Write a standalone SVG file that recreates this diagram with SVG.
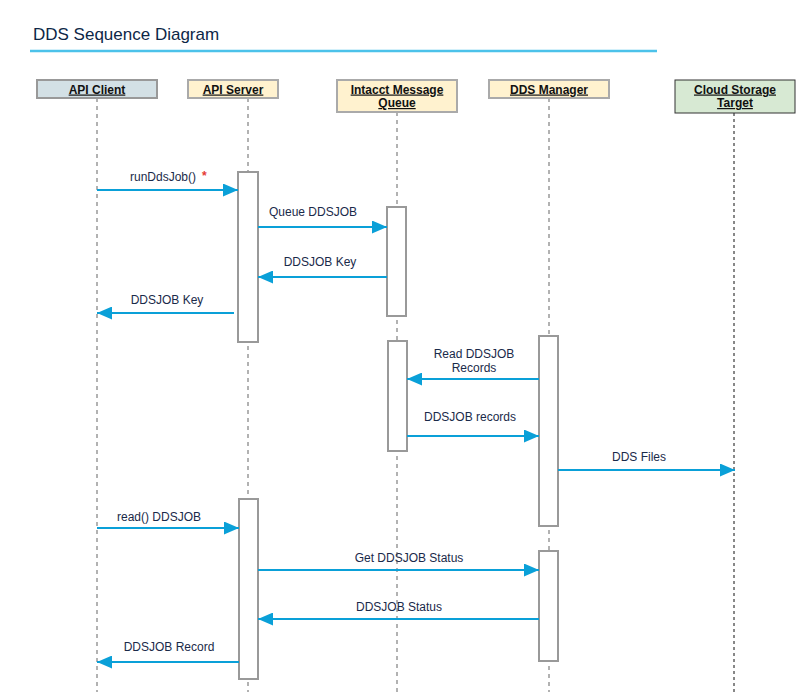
<svg xmlns="http://www.w3.org/2000/svg" width="806" height="700" viewBox="0 0 806 700">
<defs>
<marker id="ah" markerUnits="userSpaceOnUse" markerWidth="15" markerHeight="13" refX="15" refY="6.5" orient="auto">
<path d="M0,0 L15,6.5 L0,13 z" fill="#0aa0d8"/>
</marker>
<style>
.title{font-family:"Liberation Sans",Arial,sans-serif;font-size:17px;fill:#0d2747}
.hdr{font-family:"Liberation Sans",Arial,sans-serif;font-size:12px;font-weight:bold;fill:#111;text-decoration:underline;text-anchor:middle}
.lbl{font-family:"Liberation Sans",Arial,sans-serif;font-size:12px;fill:#1a2a4a;text-anchor:middle}
.life{stroke:#999;stroke-width:1.5;stroke-dasharray:4 4;fill:none}
.act{fill:#fff;stroke:#999;stroke-width:2}
.msg{stroke:#0aa0d8;stroke-width:2;fill:none;marker-end:url(#ah)}
</style>
</defs>
<rect width="806" height="700" fill="#fff"/>
<text class="title" x="33" y="40">DDS Sequence Diagram</text>
<line x1="30" y1="51" x2="657" y2="51" stroke="#4cc2ea" stroke-width="2.5"/>

<g id="lifelines">
<line class="life" x1="97" y1="98" x2="97" y2="692"/>
<line class="life" x1="248" y1="98" x2="248" y2="692"/>
<line class="life" x1="397" y1="112" x2="397" y2="692"/>
<line class="life" x1="549" y1="98" x2="549" y2="692"/>
<line x1="734" y1="113" x2="734" y2="692" stroke="#111" stroke-width="1" stroke-dasharray="3 3"/>
</g>

<g id="api-client">
<rect x="37" y="80" width="120" height="18" fill="#d3e0e5" stroke="#999" stroke-width="2"/>
<text class="hdr" x="97" y="93.5">API Client</text>
</g>
<g id="api-server">
<rect x="188" y="80" width="90" height="18" fill="#fff2cf" stroke="#aaa" stroke-width="2"/>
<text class="hdr" x="233" y="93.5">API Server</text>
</g>
<g id="message-queue">
<rect x="337" y="80" width="120" height="32" fill="#fff2cf" stroke="#aaa" stroke-width="2"/>
<text class="hdr" x="397" y="93.5">Intacct Message </text>
<text class="hdr" x="397" y="107">Queue</text>
</g>
<g id="dds-manager">
<rect x="489" y="80" width="120" height="18" fill="#fff2cf" stroke="#aaa" stroke-width="2"/>
<text class="hdr" x="549" y="93.5">DDS Manager</text>
</g>
<g id="cloud-storage">
<rect x="675" y="80" width="120" height="33" fill="#d7e9d3" stroke="#333" stroke-width="1"/>
<text class="hdr" x="735" y="93.5">Cloud Storage </text>
<text class="hdr" x="735" y="107">Target</text>
</g>

<g id="activations">
<rect class="act" x="238" y="172" width="20" height="170"/>
<rect class="act" x="387" y="207" width="19" height="109"/>
<rect class="act" x="388" y="341" width="19" height="110"/>
<rect class="act" x="539" y="336" width="19" height="190"/>
<rect class="act" x="239" y="499" width="19" height="180"/>
<rect class="act" x="539" y="551" width="19" height="110"/>
</g>

<g id="connectors">
<line class="msg" x1="97" y1="190" x2="238" y2="190"/>
<line class="msg" x1="258" y1="227" x2="387" y2="227"/>
<line class="msg" x1="387" y1="277" x2="258" y2="277"/>
<line class="msg" x1="234" y1="313" x2="97" y2="313"/>
<line class="msg" x1="539" y1="379" x2="407" y2="379"/>
<line class="msg" x1="407" y1="436" x2="539" y2="436"/>
<line class="msg" x1="558" y1="470" x2="735" y2="470"/>
<line class="msg" x1="97" y1="528" x2="239" y2="528"/>
<line class="msg" x1="258" y1="570" x2="539" y2="570"/>
<line class="msg" x1="539" y1="619" x2="258" y2="619"/>
<line class="msg" x1="239" y1="662" x2="97" y2="662"/>
</g>

<g id="labels">
<text class="lbl" x="163" y="181">runDdsJob()</text>
<text x="202" y="180" font-family="Liberation Sans,Arial,sans-serif" font-size="12" font-weight="bold" fill="#e53935">*</text>
<text class="lbl" x="313" y="216">Queue DDSJOB</text>
<text class="lbl" x="320" y="266">DDSJOB Key</text>
<text class="lbl" x="167" y="304">DDSJOB Key</text>
<text class="lbl" x="474" y="358">Read DDSJOB</text>
<text class="lbl" x="474" y="372">Records</text>
<text class="lbl" x="470" y="421">DDSJOB records</text>
<text class="lbl" x="639" y="461">DDS Files</text>
<text class="lbl" x="159" y="521">read() DDSJOB</text>
<text class="lbl" x="409" y="562">Get DDSJOB Status</text>
<text class="lbl" x="399" y="611">DDSJOB Status</text>
<text class="lbl" x="169" y="651">DDSJOB Record</text>
</g>
</svg>
